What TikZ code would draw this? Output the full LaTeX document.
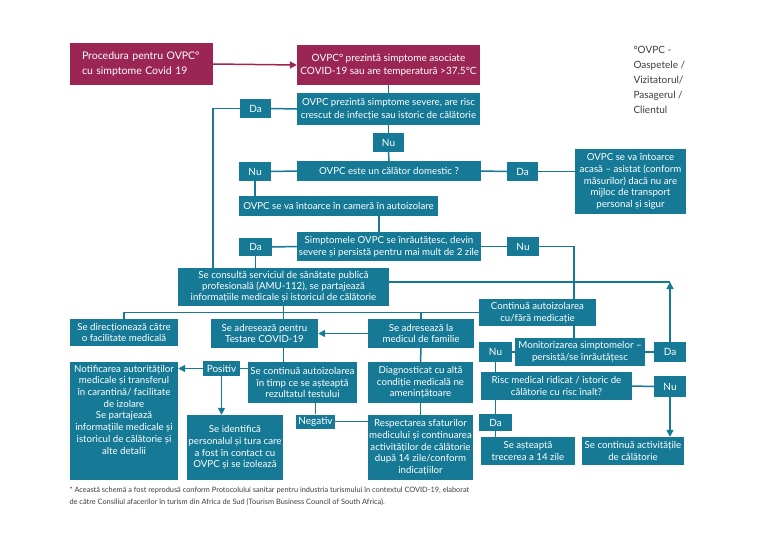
\documentclass[tikz,border=0pt]{standalone}
\usepackage{fontspec}
\setmainfont{Lato}
\usetikzlibrary{arrows.meta}
\definecolor{teal}{RGB}{22,122,150}
\definecolor{maroon}{RGB}{155,38,84}
\definecolor{notegray}{RGB}{60,60,60}
\begin{document}
\begin{tikzpicture}[x=1pt,y=-1pt,
  box/.style={fill=teal,text=white,inner sep=0.5pt,align=center,font=\fontsize{9.7}{11.8}\selectfont},
  mbox/.style={fill=maroon,text=white,inner sep=1pt,align=center,font=\fontsize{10}{13.5}\selectfont},
  lbl/.style={box,font=\fontsize{10}{12}\selectfont},
  conn/.style={draw=teal,line width=1.5pt},
  arr/.style={conn,-{Triangle[length=7pt,width=7pt]}},
]
\useasboundingbox[fill=white] (0,0) rectangle (768,541);

% top
\node[mbox,align=left,text width=119pt,inner xsep=12pt,minimum height=42pt,font=\fontsize{10.5}{15}\selectfont] (title) at (141.5,64) {Procedura pentru OVPC°\\cu simptome Covid 19};
\node[mbox,minimum width=183pt,minimum height=40pt] (b1) at (388.5,65) {OVPC° prezintă simptome asociate\\COVID-19 sau are temperatură >37.5°C};
\node[anchor=north west,align=left,text=notegray,font=\fontsize{10}{15}\selectfont] (note) at (630,43) {°OVPC -\\Oaspetele /\\Vizitatorul/\\Pasagerul /\\Clientul};

\node[box,minimum width=183pt,minimum height=32pt,font=\fontsize{9.7}{13}\selectfont] (b2) at (388.5,109) {OVPC prezintă simptome severe, are risc\\crescut de infecție sau istoric de călătorie};
\node[lbl,minimum width=31pt,minimum height=19pt] (da1) at (255.5,108.5) {Da};
\node[lbl,minimum width=31pt,minimum height=19pt] (nu1) at (388.5,142.5) {Nu};
\node[box,minimum width=184pt,minimum height=20pt] (dom) at (389,171) {OVPC este un călător domestic ?};
\node[lbl,minimum width=32pt,minimum height=19pt] (nu2) at (255,171.5) {Nu};
\node[lbl,minimum width=31pt,minimum height=19pt] (da2) at (522.5,171.5) {Da};
\node[box,minimum width=111pt,minimum height=65pt] (home) at (630.5,181.5) {OVPC se va întoarce\\acasă – asistat (conform\\măsurilor) dacă nu are\\mijloc de transport\\personal și sigur};
\node[box,minimum width=199pt,minimum height=20pt] (ret) at (338.5,206) {OVPC se va întoarce în cameră în autoizolare};
\node[box,minimum width=184pt,minimum height=29pt] (sym) at (389,246.5) {Simptomele OVPC se înrăutățesc, devin\\severe și persistă pentru mai mult de 2 zile};
\node[lbl,minimum width=33pt,minimum height=18pt] (da3) at (255.5,247) {Da};
\node[lbl,minimum width=32pt,minimum height=19pt] (nu3) at (523,246.5) {Nu};
\node[box,minimum width=211pt,minimum height=38pt,font=\fontsize{9.7}{10.8}\selectfont] (cons) at (283.5,287) {Se consultă serviciul de sănătate publică\\profesională (AMU-112), se partajează\\informațiile medicale și istoricul de călătorie};
\node[box,minimum width=117pt,minimum height=27pt] (cont) at (537.5,312.5) {Continuă autoizolarea\\cu/fără medicație};

% row
\node[box,minimum width=108pt,minimum height=27pt] (dir) at (124,332.5) {Se direcționează către\\o facilitate medicală};
\node[box,minimum width=107pt,minimum height=29pt] (test) at (264.5,333.5) {Se adresează pentru\\Testare COVID-19};
\node[box,minimum width=106pt,minimum height=29pt] (med) at (421,333.5) {Se adresează la\\medicul de familie};
\node[box,minimum width=130pt,minimum height=28pt] (mon) at (580,352) {Monitorizarea simptomelor –\\persistă/se înrăutățesc};
\node[lbl,minimum width=33pt,minimum height=20pt] (nu4) at (495.5,352) {Nu};
\node[lbl,minimum width=32pt,minimum height=20pt] (da4) at (670,352) {Da};
\node[box,minimum width=151pt,minimum height=28pt] (risc) at (556.5,386) {Risc medical ridicat / istoric de\\călătorie cu risc înalt?};
\node[lbl,minimum width=32pt,minimum height=21pt] (nu5) at (670,386.5) {Nu};
\node[lbl,minimum width=33pt,minimum height=17pt] (da5) at (495.5,422.5) {Da};
\node[box,minimum width=94pt,minimum height=28pt] (wait) at (528,451) {Se așteaptă\\trecerea a 14 zile};
\node[box,minimum width=102pt,minimum height=28pt] (cact) at (633,451) {Se continuă activitățile\\de călătorie};

\node[box,minimum width=108pt,minimum height=118pt] (notif) at (124,421) {};
\node[anchor=north,align=center,text=white,inner sep=0pt,font=\fontsize{9.7}{11.7}\selectfont] (notift) at ([yshift=-3pt]notif.north) {Notificarea autorităților\\medicale și transferul\\în carantină/ facilitate\\de izolare\\Se partajează\\informațiile medicale și\\istoricul de călătorie și\\alte detalii};
\node[lbl,minimum width=37pt,minimum height=15pt] (pos) at (221.5,368.5) {Positiv};
\node[box,minimum width=109pt,minimum height=41pt] (wt) at (302.5,382.5) {Se continuă autoizolarea\\în timp ce se așteaptă\\rezultatul testului};
\node[box,minimum width=96pt,minimum height=65pt] (ident) at (235,447.5) {Se identifică\\personalul și tura care\\a fost în contact cu\\OVPC și se izolează};
\node[lbl,minimum width=39pt,minimum height=14pt] (neg) at (315.5,421.5) {Negativ};
\node[box,minimum width=105pt,minimum height=41pt] (diag) at (420.5,382.5) {Diagnosticat cu altă\\condiție medicală ne\\amenințătoare};
\node[box,minimum width=105pt,minimum height=65pt] (resp) at (420.5,447.5) {Respectarea sfaturilor\\medicului și continuarea\\activităților de călătorie\\după 14 zile/conform\\indicațiilor};

\node[anchor=north west,align=left,text=notegray,font=\fontsize{7.4}{12.5}\selectfont] (foot) at (66,483) {* Această schemă a fost reprodusă conform Protocolului sanitar pentru industria turismului în contextul COVID-19, elaborat\\de către Consiliul afacerilor în turism din Africa de Sud (Tourism Business Council of South Africa).};

% coordinates
\path (cons.north west) ++(35,0) coordinate (c1);
\path (cont.north) ++(36.5,0) coordinate (c2);
\coordinate (c3) at (670,282);
\path (ret.south) ++(40.5,0) coordinate (c4);

% connectors
\draw[draw=maroon,line width=1.5pt,-{Triangle[length=7pt,width=7pt]}] (title.east) -- (b1.west);
\draw[conn] (b1.south) -- (b2.north);
\draw[conn] (b2.west) -- (da1.east);
\draw[conn] (da1.west) -| (c1);
\draw[conn] (b2.south) -- (nu1.north);
\draw[conn] (nu1.south) -- (dom.north);
\draw[conn] (dom.west) -- (nu2.east);
\draw[conn] (nu2.south) -- (nu2.south |- ret.north);
\draw[conn] (dom.east) -- (da2.west);
\draw[conn] (da2.east) -- (da2.east -| home.west);
\draw[conn] (c4) -- (c4 |- sym.north);
\draw[conn] (sym.west) -- (da3.east);
\draw[conn] (da3.south) -- (da3.south |- cons.north);
\draw[conn] (sym.east) -- (nu3.west);
\draw[conn] (nu3.east) -| (c2);
\draw[conn] ([yshift=5pt]cons.east) -- (c3);
\draw[arr] (da4.north) -- (c3);
\draw[conn] (dir.north) |- (cont.west);
\draw[conn] (cons.south) -- (cons.south |- test.north);
\draw[conn] (med.north) -- (med.north |- cont.west);
\draw[arr] (med.west) -- (test.east);
\draw[conn] (cons.south |- test.south) -- (cons.south |- wt.north);
\draw[conn] (pos.east) -- (pos.east -| wt.west);
\draw[arr] (pos.west) -- (pos.west -| notif.east);
\draw[arr] (pos.south) -- (pos.south |- ident.north);
\draw[conn] (neg.north |- wt.south) -- (neg.north);
\draw[conn] (neg.east) -- (neg.east -| resp.west);
\draw[conn] (med.south) -- (diag.north);
\draw[conn] (diag.south) -- (resp.north);
\draw[conn] (c2 |- cont.south) -- (c2 |- mon.north);
\draw[conn] (mon.west) -- (nu4.east);
\draw[conn] (nu4.south) -- (nu4.south |- risc.north);
\draw[conn] (mon.east) -- (da4.west);
\draw[conn] (risc.east) -- (nu5.west);
\draw[arr] (nu5.south) -- (nu5.south |- cact.north);
\draw[conn] (da5.north |- risc.south) -- (da5.north);
\draw[conn] (da5.south) -- (da5.south |- wait.north);
\end{tikzpicture}
\end{document}
